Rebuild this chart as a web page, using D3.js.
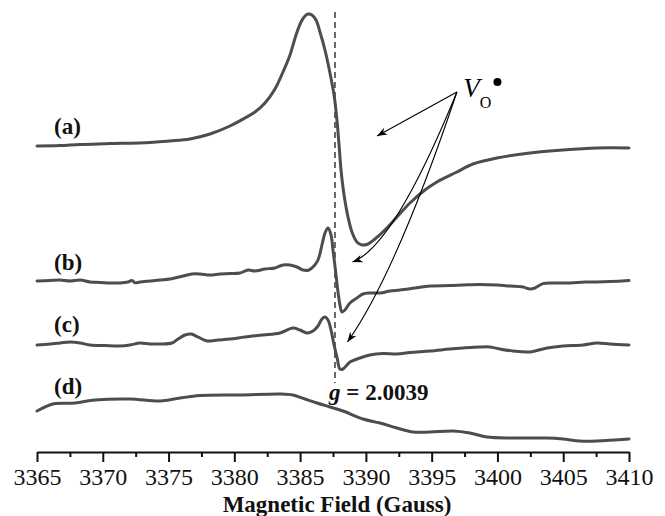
<!DOCTYPE html>
<html><head><meta charset="utf-8">
<script src="https://cdn.jsdelivr.net/npm/d3@7"></script>
<style>html,body{margin:0;padding:0;background:#fff;}svg{display:block;}</style>
</head><body>
<svg id="chart" width="665" height="516"></svg>
<script>
// Magnetic field (Gauss)
const fieldA = [3365.0,3366.75,3368.27,3370.55,3373.59,3375.11,3376.63,3378.15,3379.67,3380.81,3381.57,3382.33,3383.09,3383.70,3384.23,3384.69,3385.07,3385.37,3385.60,3385.90,3386.21,3386.51,3386.89,3387.27,3387.58,3387.80,3387.96,3388.11,3388.34,3388.64,3388.94,3389.32,3389.70,3390.16,3390.69,3391.60,3392.36,3393.35,3394.49,3395.40,3396.92,3398.14,3399.96,3402.47,3404.98,3407.57,3410.0];
const specA  = [76.5,76.6,76.9,77.1,77.4,77.75,78.25,79.5,81.5,83.5,85,87.25,90.75,95,99.25,104.25,107.5,109,109.5,109.25,108,105,100.5,94.75,89.25,83,76.75,70.5,64.25,58.75,55,52.5,51.75,52,53.25,56,58.75,62.25,65.5,67.5,70,72,73.5,74.75,75.5,76,76];

const fieldB = [3365.0,3365.99,3366.75,3367.51,3368.27,3369.03,3369.79,3370.55,3371.31,3371.92,3372.22,3372.45,3372.83,3373.59,3374.35,3375.11,3376.10,3376.78,3377.39,3378.15,3378.91,3379.67,3380.43,3381.04,3381.57,3382.33,3383.09,3383.70,3384.23,3384.76,3385.22,3385.67,3386.05,3386.36,3386.66,3386.89,3387.12,3387.35,3387.50,3387.73,3387.88,3388.03,3388.18,3388.41,3388.79,3389.32,3389.78,3390.31,3391.07,3391.83,3392.59,3393.73,3394.87,3396.39,3397.38,3398.67,3399.96,3400.95,3401.94,3402.47,3402.85,3403.46,3404.37,3405.51,3406.65,3407.57,3408.55,3410.0];
const specB  = [42.75,42.9,43,42.75,43,42.5,42.4,42.25,42.25,42.5,42.9,42.3,42.5,42.75,43,43.25,44,44.5,44.5,44.25,44.5,44.6,44.75,45.5,45.25,45.75,46,46.75,46.75,46.25,45.5,45.5,46.5,48,51.75,54.75,56,54.25,50.5,44.25,40,36.75,35,35.5,37.25,38.5,39.5,39.75,39.75,40.25,40.5,41,41.5,41.6,41.75,41.9,41.75,41.5,41.25,40.75,41,42.1,42.25,42.25,42.5,42.5,42.6,42.9];

const fieldC = [3365.0,3365.99,3366.75,3367.51,3368.27,3369.03,3370.17,3371.31,3372.07,3372.83,3373.59,3374.35,3375.26,3375.72,3376.25,3376.71,3377.24,3377.92,3378.76,3379.67,3380.81,3382.18,3383.47,3384.46,3384.99,3385.52,3385.98,3386.36,3386.66,3386.89,3387.12,3387.35,3387.58,3387.80,3388.03,3388.26,3388.49,3388.79,3389.55,3390.31,3391.30,3392.36,3393.35,3394.87,3396.39,3397.38,3398.67,3399.43,3400.19,3401.18,3402.47,3403.77,3404.98,3406.50,3407.57,3408.55,3410.0];
const specC  = [26.75,27,27.25,27.5,27.25,26.75,26.6,26.5,26.75,27.25,27,27,27.25,28.25,29.25,29.5,28.75,27.75,28,28.25,28.75,29.25,29.75,31,30.5,29.75,30.25,31.5,33.25,33.75,33,30.5,26.75,23.75,20.75,20.75,21.5,22.5,23.5,24.25,24.6,24.5,24.9,25.25,25.75,26,26.25,26.25,25.75,25.25,25,26,26.5,26.75,27.25,27,26.75];

const fieldD = [3365.0,3365.61,3366.37,3367.89,3369.41,3372.07,3374.35,3375.87,3377.39,3380.43,3383.47,3384.46,3385.37,3386.28,3387.27,3388.26,3389.78,3391.07,3392.36,3393.58,3394.87,3396.62,3397.91,3399.20,3401.18,3403.77,3404.98,3406.27,3407.57,3410.0];
const specD  = [10.25,11.25,12.1,12.25,13,13.25,12.75,13.5,14.1,14.25,14.5,14.25,13.25,12.25,11.25,10.25,8.25,7.25,6,5,5,5.25,4.75,3.75,3.5,3.5,3.25,2.75,2.75,3.25];

const seriesLabels = ["(a)","(b)","(c)","(d)"];
const labelIntensity = [79.5, 45.5, 30, 14.5];
const majorTicks = [3365,3370,3375,3380,3385,3390,3395,3400,3405,3410];
const minorTicks = [3367.5,3372.5,3377.5,3382.5,3387.5,3392.5,3397.5,3402.5,3407.5];
const gField = 3387.65;
const gLabel = "g = 2.0039";
const xTitle = "Magnetic Field (Gauss)";
// annotation anchor (field, intensity) and arrow targets
const arrowStart = [3396.92, 90];
const arrowEnds = [[3390.85, 79], [3388.98, 47.5], [3388.60, 27.5]];
const arrowCtrls = [null, [3392.10, 51.25], [3392.3, 44.75]];

const svg = d3.select("#chart");
const x = d3.scaleLinear().domain([3365, 3410]).range([37, 629]);
const y = d3.scaleLinear().domain([0, 110]).range([452, 12]);
const serif = "'Liberation Serif','Times New Roman',serif";
const traceColor = "#4d4d4d";

const defs = svg.append("defs");
defs.append("marker").attr("id","ah").attr("viewBox","-10 -5 12 10")
  .attr("refX",0).attr("refY",0).attr("markerWidth",12).attr("markerHeight",10)
  .attr("markerUnits","userSpaceOnUse").attr("orient","auto")
  .append("path").attr("d","M0,0 L-10,-3.8 L-7,0 L-10,3.8 Z").attr("fill","#000");

// dashed g-line
svg.append("line").attr("x1", x(gField)).attr("x2", x(gField))
  .attr("y1", y(110)).attr("y2", y(17.25))
  .attr("stroke", "#444").attr("stroke-width", 1.6).attr("stroke-dasharray", "6,4");

const line = d3.line().x(d => x(d[0])).y(d => y(d[1])).curve(d3.curveCatmullRom.alpha(0.5));
const traces = [[fieldA, specA],[fieldB, specB],[fieldC, specC],[fieldD, specD]];
traces.forEach(([f, s]) => {
  svg.append("path").datum(f.map((v,i) => [v, s[i]]))
    .attr("d", line).attr("fill","none").attr("stroke", traceColor)
    .attr("stroke-width", 3).attr("stroke-linejoin","round").attr("stroke-linecap","round");
});

// series labels
seriesLabels.forEach((t,i) => {
  svg.append("text").attr("x", x(3366.3)).attr("y", y(labelIntensity[i]))
    .attr("font-family", serif).attr("font-weight","bold").attr("font-size", 23)
    .attr("fill","#111").text(t);
});

// arrows
arrowEnds.forEach((e,i) => {
  const p0 = [x(arrowStart[0]), y(arrowStart[1])];
  const p1 = [x(e[0]), y(e[1])];
  let d;
  if (arrowCtrls[i]) {
    const c = [x(arrowCtrls[i][0]), y(arrowCtrls[i][1])];
    d = `M${p0[0]},${p0[1]} Q${c[0]},${c[1]} ${p1[0]},${p1[1]}`;
  } else {
    d = `M${p0[0]},${p0[1]} L${p1[0]},${p1[1]}`;
  }
  svg.append("path").attr("d", d).attr("fill","none").attr("stroke","#000")
    .attr("stroke-width", 1.1).attr("marker-end","url(#ah)");
});

// V_O• label
const vt = svg.append("text").attr("x", x(3397.4)).attr("y", y(88.75))
  .attr("font-family", serif).attr("fill","#000");
vt.append("tspan").attr("font-style","italic").attr("font-size", 27).text("V");
vt.append("tspan").attr("font-size", 16).attr("dx", 0).attr("dy", 11).text("O");
svg.append("circle").attr("cx", x(3400.0)).attr("cy", y(92.5)).attr("r", 4).attr("fill","#000");

// g label
const gt = svg.append("text").attr("x", x(3387.2)).attr("y", y(13))
  .attr("font-family", serif).attr("font-weight","bold").attr("font-size", 23).attr("fill","#111");
gt.append("tspan").attr("font-style","italic").text("g");
gt.append("tspan").text(gLabel.slice(1));

// axis
const ax = svg.append("g").attr("transform", `translate(0,${y(0)})`)
  .call(d3.axisBottom(x).tickValues(majorTicks).tickSize(10).tickSizeOuter(0).tickPadding(6).tickFormat(d3.format("d")));
ax.select(".domain").attr("stroke-width", 2).attr("stroke","#111");
ax.selectAll(".tick line").attr("stroke-width", 2).attr("stroke","#111");
ax.selectAll(".tick text").attr("font-family", serif).attr("font-size", 24).attr("fill","#111");
const axm = svg.append("g").attr("transform", `translate(0,${y(0)})`)
  .call(d3.axisBottom(x).tickValues(minorTicks).tickSize(5).tickSizeOuter(0).tickFormat(""));
axm.select(".domain").remove();
axm.selectAll(".tick line").attr("stroke-width", 2).attr("stroke","#111");

svg.append("text").attr("x", 337).attr("y", 512).attr("text-anchor","middle")
  .attr("font-family", serif).attr("font-weight","bold").attr("font-size", 23).attr("fill","#111")
  .text(xTitle);
</script>
</body></html>
